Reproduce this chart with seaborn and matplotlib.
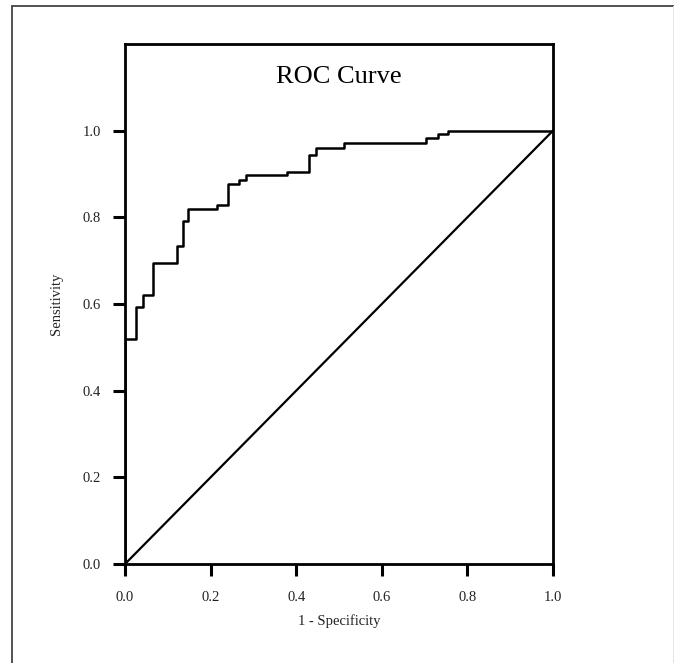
"""
roc_curve.py -- ROC curve chart (step curve + reference diagonal)
"""
import matplotlib
matplotlib.use("Agg")
import matplotlib.pyplot as plt
from matplotlib.lines import Line2D
import seaborn as sns

# ROC curve points (1 - specificity, sensitivity)
fpr = [0.0, 0.0, 0.026, 0.041, 0.066, 0.121, 0.135, 0.148, 0.216, 0.241,
       0.267, 0.282, 0.379, 0.431, 0.446, 0.512, 0.703, 0.731, 0.755, 1.0]
tpr = [0.0, 0.519, 0.593, 0.620, 0.695, 0.734, 0.791, 0.819, 0.828, 0.877,
       0.886, 0.898, 0.905, 0.945, 0.961, 0.972, 0.984, 0.992, 1.0, 1.0]
diag_x = [0.0, 1.0]
diag_y = [0.0, 1.0]
tick_vals = [0.0, 0.2, 0.4, 0.6, 0.8, 1.0]
tick_labels = ["0.0", "0.2", "0.4", "0.6", "0.8", "1.0"]

sns.set_theme(style="white")
plt.rcParams["font.family"] = ["Liberation Serif", "DejaVu Serif"]

fig = plt.figure(figsize=(6.74, 6.63), dpi=100, facecolor="white")
ax = fig.add_axes([125 / 674, 1 - 564 / 663, 428 / 674, 520 / 663])

sns.lineplot(x=fpr, y=tpr, estimator=None, sort=False, drawstyle="steps-post",
             color="black", linewidth=1.8, ax=ax)
sns.lineplot(x=diag_x, y=diag_y, estimator=None, sort=False,
             color="black", linewidth=1.6, ax=ax)

ax.set_xlim(0, 1)
ax.set_ylim(0, 1.2)
ax.set_xticks(tick_vals)
ax.set_xticklabels(tick_labels)
ax.set_yticks(tick_vals)
ax.set_yticklabels(tick_labels)
ax.tick_params(axis="both", which="major", direction="out", length=8.5, width=2.2,
               color="black", labelsize=10.5, labelcolor="#222222",
               bottom=True, left=True)
ax.tick_params(axis="x", pad=11)
ax.tick_params(axis="y", pad=9)
for sp in ax.spines.values():
    sp.set_visible(True)
    sp.set_color("black")
    sp.set_linewidth(2)
ax.grid(False)

ax.set_xlabel("1 - Specificity", fontsize=10.5, color="#222222", labelpad=7)
ax.set_ylabel("Sensitivity", fontsize=10.5, color="#222222", labelpad=14)
ax.text(0.5, 1.11, "ROC Curve", ha="center", va="baseline", fontsize=19,
        color="black")

# outer frame of the original output window (left and top edges)
fig.add_artist(Line2D([12.5 / 674, 12.5 / 674], [0, 1 - 5.5 / 663],
                      transform=fig.transFigure, color="#444444", linewidth=1.3))
fig.add_artist(Line2D([12.5 / 674, 1], [1 - 5.5 / 663, 1 - 5.5 / 663],
                      transform=fig.transFigure, color="#444444", linewidth=1.3))
fig.add_artist(Line2D([673 / 674, 673 / 674], [0, 1 - 5.5 / 663],
                      transform=fig.transFigure, color="#e6e6e6", linewidth=0.8))

fig.savefig("out.png", dpi=100, facecolor="white")
plt.close(fig)
